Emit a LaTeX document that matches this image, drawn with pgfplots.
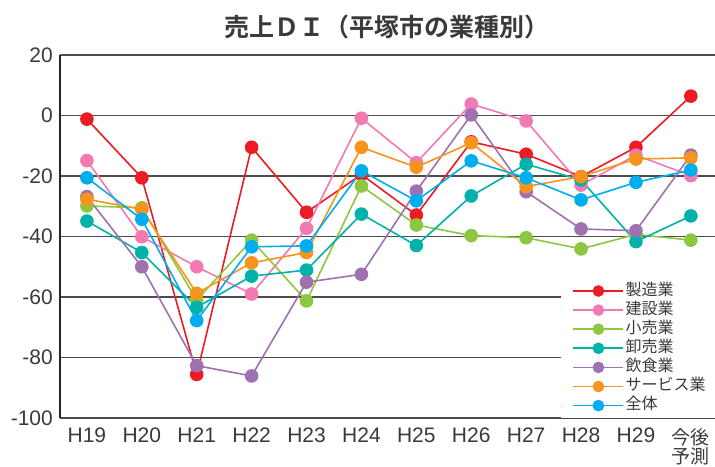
\documentclass[border=0pt]{standalone}
\usepackage{pgfplots}
\pgfplotsset{compat=1.18}
\usepackage{fontspec}
\setmainfont{Liberation Sans}
\newfontfamily\jp{Noto Sans CJK JP}
\newfontfamily\jpb{Noto Sans CJK JP Bold}
\definecolor{cRed}{HTML}{ED1C24}
\definecolor{cPink}{HTML}{F279B2}
\definecolor{cGreen}{HTML}{8DC63F}
\definecolor{cTeal}{HTML}{00B2A9}
\definecolor{cPurple}{HTML}{A071B0}
\definecolor{cOrange}{HTML}{F7941D}
\definecolor{cBlue}{HTML}{00AEEF}
\definecolor{txt}{HTML}{3A3A3A}
\begin{document}
\begin{tikzpicture}[x=1pt,y=1pt]
\useasboundingbox (-60pt,-48pt) rectangle (655pt,418pt);
\begin{axis}[
  at={(0,0)}, anchor=south west,
  scale only axis, width=655pt, height=363pt,
  xmin=-0.49, xmax=11.44, ymin=-100, ymax=20,
  xtick={0,...,11},
  xticklabels={H19,H20,H21,H22,H23,H24,H25,H26,H27,H28,H29,{\jp\fontsize{19}{16}\selectfont 今後\\\jp\fontsize{19}{16}\selectfont 予測}},
  ytick={-100,-80,-60,-40,-20,0,20},
  yticklabels={-100,-80,-60,-40,-20,0,20},
  major tick length=0pt,
  axis line style={draw=none},
  ymajorgrids,
  grid style={draw=black!70, line width=1.1pt},
  tick label style={font=\fontsize{21}{19}\selectfont, text=txt},
  xticklabel style={anchor=north, inner sep=0pt, yshift=-10pt, align=center},
  yticklabel style={anchor=east, inner sep=0pt, xshift=-7pt},
  every axis plot/.append style={line width=1.6pt, mark=*, mark size=6pt},
  clip=false,
  legend cell align=left,
  legend style={at={(rel axis cs:0.764,0.385)}, anchor=north west, draw=none, fill=white,
    font=\jp\fontsize{16}{16}\selectfont, text=txt, inner xsep=12pt, inner ysep=3pt,
    row sep=0pt,
    nodes={text height=12.5pt, text depth=4pt, inner sep=1.3pt}},
  legend image code/.code={\draw[mark repeat=2, mark phase=2, mark size=5pt] plot coordinates {(0pt,0pt) (25pt,0pt) (50pt,0pt)};},
]
\draw[line width=1.8pt, black!85] (rel axis cs:0,0) -- (rel axis cs:0,1);
\addplot[color=cRed] coordinates {(0,-1.2) (1,-20.6) (2,-85.6) (3,-10.5) (4,-32.0) (5,-19.5) (6,-32.9) (7,-8.7) (8,-12.8) (9,-20.2) (10,-10.5) (11,6.4)};
\addlegendentry{製造業}
\addplot[color=cPink] coordinates {(0,-14.9) (1,-40.1) (2,-50.0) (3,-59.0) (4,-37.3) (5,-0.9) (6,-15.6) (7,3.8) (8,-1.8) (9,-23.0) (10,-13.1) (11,-19.9)};
\addlegendentry{建設業}
\addplot[color=cGreen] coordinates {(0,-29.9) (1,-30.5) (2,-61.0) (3,-41.2) (4,-61.3) (5,-23.3) (6,-36.2) (7,-39.7) (8,-40.4) (9,-44.1) (10,-39.3) (11,-41.2)};
\addlegendentry{小売業}
\addplot[color=cTeal] coordinates {(0,-34.9) (1,-45.3) (2,-63.4) (3,-53.1) (4,-51.1) (5,-32.6) (6,-43.0) (7,-26.6) (8,-16.1) (9,-21.3) (10,-41.7) (11,-33.2)};
\addlegendentry{卸売業}
\addplot[color=cPurple] coordinates {(0,-26.8) (1,-50.0) (2,-82.7) (3,-86.1) (4,-55.1) (5,-52.5) (6,-25.0) (7,0.2) (8,-25.2) (9,-37.5) (10,-38.1) (11,-13.1)};
\addlegendentry{飲食業}
\addplot[color=cOrange] coordinates {(0,-27.7) (1,-31.0) (2,-58.8) (3,-48.7) (4,-45.3) (5,-10.5) (6,-17.1) (7,-9.0) (8,-23.5) (9,-20.2) (10,-14.4) (11,-14.0)};
\addlegendentry{サービス業}
\addplot[color=cBlue] coordinates {(0,-20.6) (1,-34.3) (2,-67.8) (3,-43.4) (4,-43.1) (5,-18.3) (6,-28.2) (7,-15.0) (8,-20.6) (9,-27.9) (10,-22.1) (11,-18.0)};
\addlegendentry{全体}
\end{axis}
\node[font=\jpb\fontsize{25}{25}\selectfont, text=txt, anchor=center] at (327pt,391pt) {売上ＤＩ（平塚市の業種別）};
\end{tikzpicture}
\end{document}
